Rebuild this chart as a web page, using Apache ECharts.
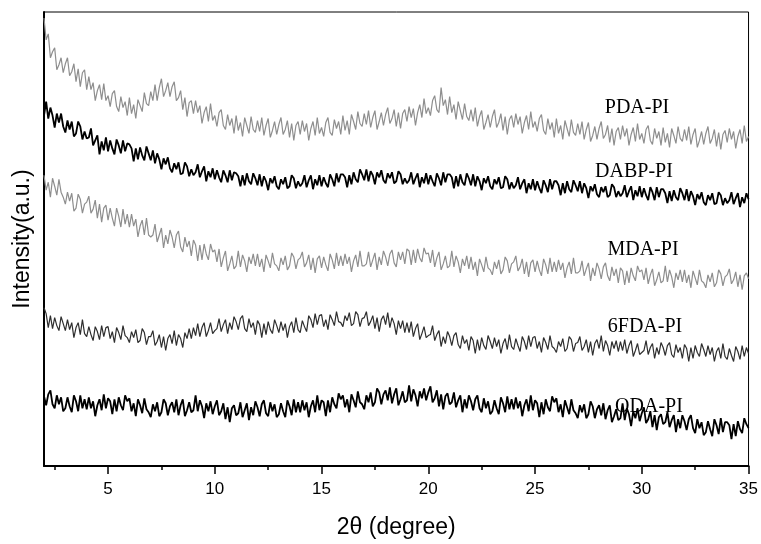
<!DOCTYPE html>
<html><head><meta charset="utf-8">
<script src="https://cdn.jsdelivr.net/npm/echarts@6/dist/echarts.min.js"></script>
<style>html,body{margin:0;padding:0;background:#fff}#c{width:761px;height:544px}</style>
</head><body><div id="c"></div><script>
// scan grid (2θ, degrees)
const scanStart = 2, scanStep = 0.1;
const majorTicks = [5, 10, 15, 20, 25, 30, 35];
const minorTicks = [2.5, 7.5, 12.5, 17.5, 22.5, 27.5, 32.5];
const seriesNames = ['PDA-PI', 'DABP-PI', 'MDA-PI', '6FDA-PI', 'ODA-PI'];

// intensities (a.u.), one row per degree
const pda = [
450,428,434,410,416,420,398,403,410,395,
404,410,392,396,404,386,399,381,395,398,
378,391,378,385,367,377,383,368,384,367,
372,361,374,377,361,356,371,360,366,352,
370,354,363,349,368,362,356,375,364,362,
376,367,383,367,380,389,371,377,385,371,
381,386,367,370,377,358,370,351,365,367,
354,367,355,362,344,355,361,346,364,347,
352,341,355,358,342,338,353,342,349,334,
352,337,345,331,350,342,334,351,338,335,
347,336,350,332,342,349,330,337,346,333,
343,350,333,338,347,330,344,327,342,346,
333,347,336,344,327,339,346,332,350,334,
340,331,345,350,335,332,348,339,346,333,
352,337,347,333,353,346,338,356,344,341,
354,343,357,340,350,357,338,346,355,342,
353,360,344,349,358,341,355,339,354,358,
346,361,350,359,342,355,363,350,369,354,
360,352,367,372,358,355,380,362,368,353,
371,355,363,348,366,357,348,364,351,347,
358,346,360,341,351,357,338,345,353,340,
351,358,340,345,354,337,351,333,348,352,
340,354,343,351,334,345,352,338,356,340,
346,336,349,353,337,333,349,338,345,330,
349,334,342,328,347,339,331,348,335,332,
344,333,346,328,338,345,326,332,341,328,
339,346,329,333,342,325,339,322,336,340,
328,342,331,339,322,333,340,326,344,328,
334,324,338,342,327,323,339,329,336,322,
340,325,334,320,339,332,324,341,329,326,
338,327,341,323,333,339,320,327,336,323,
334,341,324,329,338,321,335,318,333,337,
325,339,328,336,319,331,338,324,342,326,
331];

const dabp = [
352,366,349,360,352,340,354,345,354,341,
335,347,338,346,331,334,346,341,328,336,
329,330,339,322,327,332,313,326,317,330,
316,327,319,313,328,322,314,327,316,324,
323,319,306,319,308,320,312,307,321,314,
307,317,304,314,308,298,309,303,310,299,
295,304,298,305,293,294,305,301,291,298,
292,295,303,290,296,301,286,296,290,299,
288,297,290,285,297,292,285,297,287,295,
294,291,281,292,282,294,286,283,294,289,
282,293,281,291,286,277,289,284,291,281,
278,288,283,290,279,281,292,289,279,286,
281,284,292,280,287,292,278,288,282,292,
281,290,284,280,293,288,281,294,285,293,
293,290,280,292,283,295,288,285,298,293,
287,298,286,296,292,283,295,290,297,287,
284,294,289,295,284,286,296,293,283,289,
284,287,295,283,289,294,280,290,284,294,
283,292,286,281,294,289,282,295,285,293,
293,290,279,291,281,293,285,282,294,289,
282,293,281,291,286,277,289,284,291,281,
278,288,283,290,279,280,291,288,278,285,
279,282,290,278,284,288,274,284,278,288,
277,286,279,274,287,282,275,288,278,286,
286,282,272,284,274,286,278,275,287,282,
276,286,274,284,279,269,281,276,283,273,
270,280,275,281,270,272,283,280,270,276,
271,274,282,270,276,281,267,277,271,281,
270,279,272,267,280,275,267,280,270,278,
278,274,264,276,266,277,270,267,279,274,
267,278,266,276,271,262,273,268,275,265,
262,272,267,274,263,264,275,272,262,269,
264,267,275,263,269,274,260,270,264,274,
268];

const mda = [
292,277,285,270,289,281,272,288,275,270,
263,275,266,274,256,259,273,268,254,263,
265,271,254,258,267,249,263,245,259,262,
247,259,249,241,259,251,240,258,243,253,
240,253,241,248,230,241,247,232,249,232,
230,232,243,225,232,239,219,232,223,237,
230,219,232,236,220,215,230,220,226,211,
227,222,206,222,207,223,213,207,223,215,
217,205,218,200,209,216,196,203,211,198,
201,216,200,212,206,195,210,203,213,201,
213,200,208,195,212,206,199,214,203,201,
196,209,202,211,197,201,214,210,198,207,
209,215,200,204,212,197,209,194,208,211,
199,210,202,196,213,207,198,214,201,211,
201,213,203,210,195,206,212,200,216,201,
201,203,215,200,207,214,197,210,202,216,
210,201,213,217,204,200,215,207,215,203,
218,216,202,217,204,218,209,205,219,213,
214,204,217,200,209,215,197,203,211,199,
201,216,200,211,205,194,208,201,211,198,
210,197,205,191,208,202,195,210,199,197,
192,205,198,207,193,197,210,206,194,203,
205,211,196,200,208,193,205,190,204,207,
195,206,197,191,208,202,193,209,195,205,
195,207,197,204,189,199,205,193,209,194,
194,196,206,191,198,204,186,199,191,204,
198,188,200,204,191,186,200,191,198,184,
199,196,182,196,184,199,191,186,201,195,
197,187,199,183,192,198,181,187,195,184,
186,201,185,197,190,179,194,187,197,185,
197,184,192,179,196,189,182,197,186,184,
179,192,185,194,180,184,197,193,181,190,
192,198,183,187,195,180,192,177,191,194,
188];

const fda6 = [
159,153,139,151,138,149,141,136,150,143,
136,147,137,144,129,139,144,132,147,133,
130,140,132,126,140,135,127,141,130,139,
140,128,135,124,139,134,127,141,131,129,
124,135,129,137,124,126,138,134,122,130,
130,136,121,125,132,119,130,116,128,132,
123,136,121,132,128,119,134,128,138,128,
139,131,143,130,139,144,130,136,144,133,
136,138,148,135,142,147,133,144,137,150,
145,137,148,151,138,135,148,139,144,132,
146,142,129,143,132,145,137,133,147,141,
134,145,136,143,129,140,145,134,149,137,
134,146,140,135,151,147,139,153,142,151,
152,140,147,137,152,147,141,155,145,144,
140,151,146,154,141,143,155,152,140,148,
149,155,141,145,151,138,149,135,147,151,
142,154,139,149,143,132,146,138,146,134,
144,134,145,130,138,143,127,133,140,129,
131,132,141,126,132,136,120,130,123,135,
130,121,131,134,122,118,131,123,127,116,
130,126,113,127,116,129,121,117,131,125,
118,129,120,127,113,123,128,117,132,120,
117,128,121,115,130,125,117,131,120,129,
130,118,125,114,129,124,117,131,120,118,
114,125,120,128,115,118,130,127,115,123,
124,130,116,120,127,114,125,111,123,127,
118,131,115,126,121,111,125,118,126,115,
125,116,127,113,121,126,110,116,123,112,
114,116,126,112,119,123,108,119,112,124,
119,111,121,124,112,109,122,114,119,108,
122,118,105,119,108,121,114,110,123,117,
110,121,112,119,105,115,119,108,123,110,
107,118,111,105,120,115,107,121,110,119,
113];

const oda = [
70,61,72,76,62,58,71,62,69,55,
58,69,60,54,71,65,55,71,58,67,
57,69,58,65,50,61,67,56,72,58,
68,65,52,67,55,69,61,56,71,65,
68,55,63,50,67,61,53,68,57,54,
49,62,55,64,50,54,67,63,51,60,
64,54,67,51,61,67,50,56,64,54,
56,71,55,66,60,48,63,55,65,52,
60,66,51,55,63,47,59,44,58,61,
51,53,64,49,56,63,46,59,51,65,
59,50,62,66,53,50,64,55,62,49,
52,63,55,49,66,60,51,67,54,64,
54,66,56,64,49,60,66,54,71,56,
66,64,50,66,54,69,62,58,73,67,
71,59,67,54,72,66,59,75,64,62,
57,71,64,74,60,64,78,74,62,72,
76,66,79,63,72,78,61,67,75,64,
66,81,65,77,71,60,75,68,78,66,
74,80,64,68,76,60,72,57,70,73,
62,64,74,59,66,71,54,67,58,71,
65,56,67,71,58,54,68,58,65,52,
55,66,58,52,69,63,54,70,57,67,
57,69,58,65,50,61,67,55,71,56,
66,63,49,64,52,67,59,55,70,64,
68,54,62,49,66,59,52,67,56,53,
48,61,54,62,48,52,65,60,48,57,
61,51,63,47,56,61,44,50,57,46,
48,63,46,58,52,40,55,48,58,45,
53,59,43,47,55,39,51,36,49,52,
42,44,54,39,46,51,34,47,38,51,
45,36,47,51,38,33,47,38,44,31,
34,45,37,30,47,41,32,48,34,44,
44,41,27,42,30,45,37,33,48,42,
38];

const twoTheta = pda.map((_, i) => +(scanStart + scanStep * i).toFixed(2));
const pairs = arr => arr.map((v, i) => [twoTheta[i], v]);

const chart = echarts.init(document.getElementById('c'), null, {renderer: 'canvas'});
const sans = 'Liberation Sans, Arial, sans-serif';
const serif = 'Liberation Serif, Times New Roman, serif';
const styles = [
  {color: '#8e8e8e', width: 1.2},
  {color: '#000000', width: 1.8},
  {color: '#8e8e8e', width: 1.2},
  {color: '#2e2e2e', width: 1.2},
  {color: '#000000', width: 1.8}
];
const dataSets = [pda, dabp, mda, fda6, oda];

chart.setOption({
  animation: false,
  backgroundColor: '#fff',
  grid: {left: 44, right: 10, top: 12, bottom: 76, show: true, borderColor: '#000', borderWidth: 1},
  xAxis: [{
    type: 'value', min: 2, max: 35,
    name: '2θ (degree)', nameLocation: 'middle', nameGap: 50,
    nameTextStyle: {fontFamily: sans, fontSize: 23, color: '#000'},
    axisLine: {show: true, onZero: false, lineStyle: {color: '#000', width: 2}},
    axisTick: {show: true, customValues: majorTicks, length: 8, lineStyle: {color: '#000', width: 1.5}},
    axisLabel: {customValues: majorTicks, margin: 15, fontFamily: sans, fontSize: 17, color: '#000'},
    splitLine: {show: false}
  }, {
    type: 'value', min: 2, max: 35, position: 'bottom',
    axisLine: {show: false},
    axisTick: {show: true, customValues: minorTicks, length: 4, lineStyle: {color: '#000', width: 1.5}},
    axisLabel: {show: false}, splitLine: {show: false}
  }],
  yAxis: {
    type: 'value', min: 0, max: 456,
    name: 'Intensity(a.u.)', nameLocation: 'middle', nameGap: 10,
    nameTextStyle: {fontFamily: sans, fontSize: 23, color: '#000'},
    axisLine: {show: true, lineStyle: {color: '#000', width: 2}},
    axisTick: {show: false}, axisLabel: {show: false}, splitLine: {show: false}
  },
  series: dataSets.map((d, k) => ({
    name: seriesNames[k], type: 'line', xAxisIndex: 0, data: pairs(d),
    showSymbol: false, symbol: 'none', silent: true,
    lineStyle: {color: styles[k].color, width: styles[k].width}
  })),
  graphic: [
    {x: 637, y: 108, text: seriesNames[0]},
    {x: 634, y: 172, text: seriesNames[1]},
    {x: 643, y: 250, text: seriesNames[2]},
    {x: 645, y: 327, text: seriesNames[3]},
    {x: 649, y: 407, text: seriesNames[4]}
  ].map(l => ({type: 'text', x: l.x, y: l.y, z: 100,
    style: {text: l.text, font: '20px ' + serif, fill: '#000', textAlign: 'center', textVerticalAlign: 'middle'}}))
});
</script></body></html>
